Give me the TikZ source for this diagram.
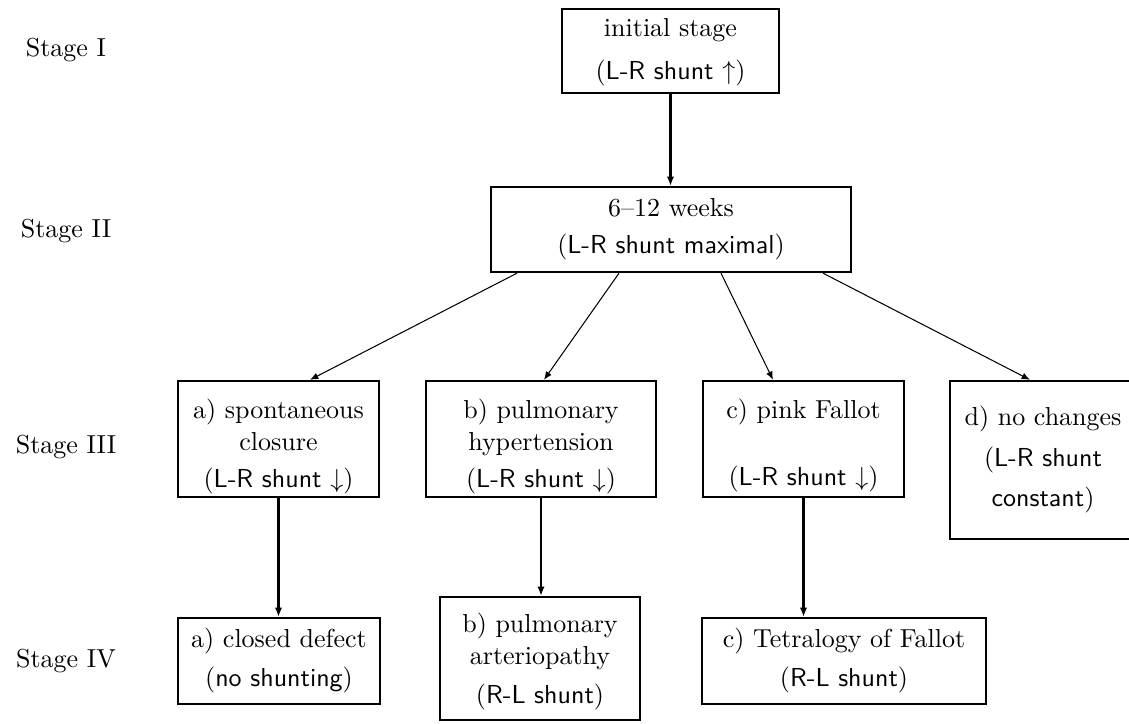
\documentclass[tikz,border=0pt]{standalone}
\usetikzlibrary{arrows.meta}
% shunt remark: serif parentheses around sans-serif text
\newcommand{\shuntnote}[1]{$($\textsf{#1}$)$}
\newcommand{\rows}[1]{\begin{tabular}[t]{@{}c@{}}#1\end{tabular}}
\begin{document}
\begin{tikzpicture}[x=0.384615pt,y=-0.384615pt,
  box/.style={draw, line width=0.9pt, inner sep=0pt, anchor=base},
  stagelabel/.style={anchor=base},
  flow/.style={-{Latex[length=3.5pt,width=2.8pt]}, line width=0.8pt},
  branch/.style={-{Latex[length=3.2pt,width=2.6pt]}, line width=0.4pt}]

\useasboundingbox (0,0) rectangle (1129,724);
\begin{scope}
\clip (0,0) rectangle (1129,724);

% stage labels
\node[stagelabel] (s1) at (66,57) {Stage I};
\node[stagelabel] (s2) at (66,237) {Stage II};
\node[stagelabel] (s3) at (66,453) {Stage III};
\node[stagelabel] (s4) at (66,667) {Stage IV};

% stage I and II
\node[box, minimum width=83.46pt, text height=10.38pt, text depth=21.92pt] (I) at (670.5,36)
  {\rows{initial stage\\[4.92pt]\shuntnote{L-R shunt $\uparrow$}}};
\node[box, minimum width=138.46pt, text height=11.54pt, text depth=21.15pt] (II) at (671,217)
  {\rows{6--12 weeks\\[1.85pt]\shuntnote{L-R shunt maximal}}};

% stage III
\node[box, minimum width=77.3pt, text height=14.23pt, text depth=30.38pt] (IIIa) at (278.5,418)
  {\rows{a) spontaneous\\[0.69pt]closure\\[1.85pt]\shuntnote{L-R shunt $\downarrow$}}};
\node[box, minimum width=88.46pt, text height=14.23pt, text depth=30.38pt] (IIIb) at (541,418)
  {\rows{b) pulmonary\\[0.69pt]hypertension\\[1.85pt]\shuntnote{L-R shunt $\downarrow$}}};
\node[box, minimum width=77.3pt, text height=14.23pt, text depth=30.38pt] (IIIc) at (803.5,418)
  {\rows{c) pink Fallot\\[14.15pt]\shuntnote{L-R shunt $\downarrow$}}};
\node[box, minimum width=71.54pt, text height=16.92pt, text depth=43.85pt] (IIId) at (1043,425)
  {\rows{d) no changes\\[4.15pt]$($\textsf{L-R shunt}\\[3.38pt]\textsf{constant}$)$}};

% stage IV
\node[box, minimum width=77.69pt, text height=11.15pt, text depth=21.92pt] (IVa) at (279,647)
  {\rows{a) closed defect\\[3.38pt]\shuntnote{no shunting}}};
\node[box, minimum width=76.92pt, text height=13.46pt, text depth=33.85pt] (IVb) at (540,632)
  {\rows{b) pulmonary\\[0.69pt]arteriopathy\\[2.62pt]\shuntnote{R-L shunt}}};
\node[box, minimum width=109.23pt, text height=11.15pt, text depth=21.92pt] (IVc) at (844,647)
  {\rows{c) Tetralogy of Fallot\\[3.38pt]\shuntnote{R-L shunt}}};

% connectors
\draw[flow] (I.south) -- (I.south |- II.north);
\draw[branch] ([xshift=-59.23pt]II.south) -- ([xshift=12.12pt]IIIa.north);
\draw[branch] ([xshift=-20pt]II.south) -- ([xshift=1.15pt]IIIb.north);
\draw[branch] ([xshift=19.23pt]II.south) -- ([xshift=-11.73pt]IIIc.north);
\draw[branch] ([xshift=58.46pt]II.south) -- ([xshift=-5pt]IIId.north);
\draw[flow] (IIIa.south) -- (IIIa.south |- IVa.north);
\draw[flow] (IIIb.south) -- (IIIb.south |- IVb.north);
\draw[flow] (IIIc.south) -- (IIIc.south |- IVc.north);
\end{scope}
\end{tikzpicture}
\end{document}
